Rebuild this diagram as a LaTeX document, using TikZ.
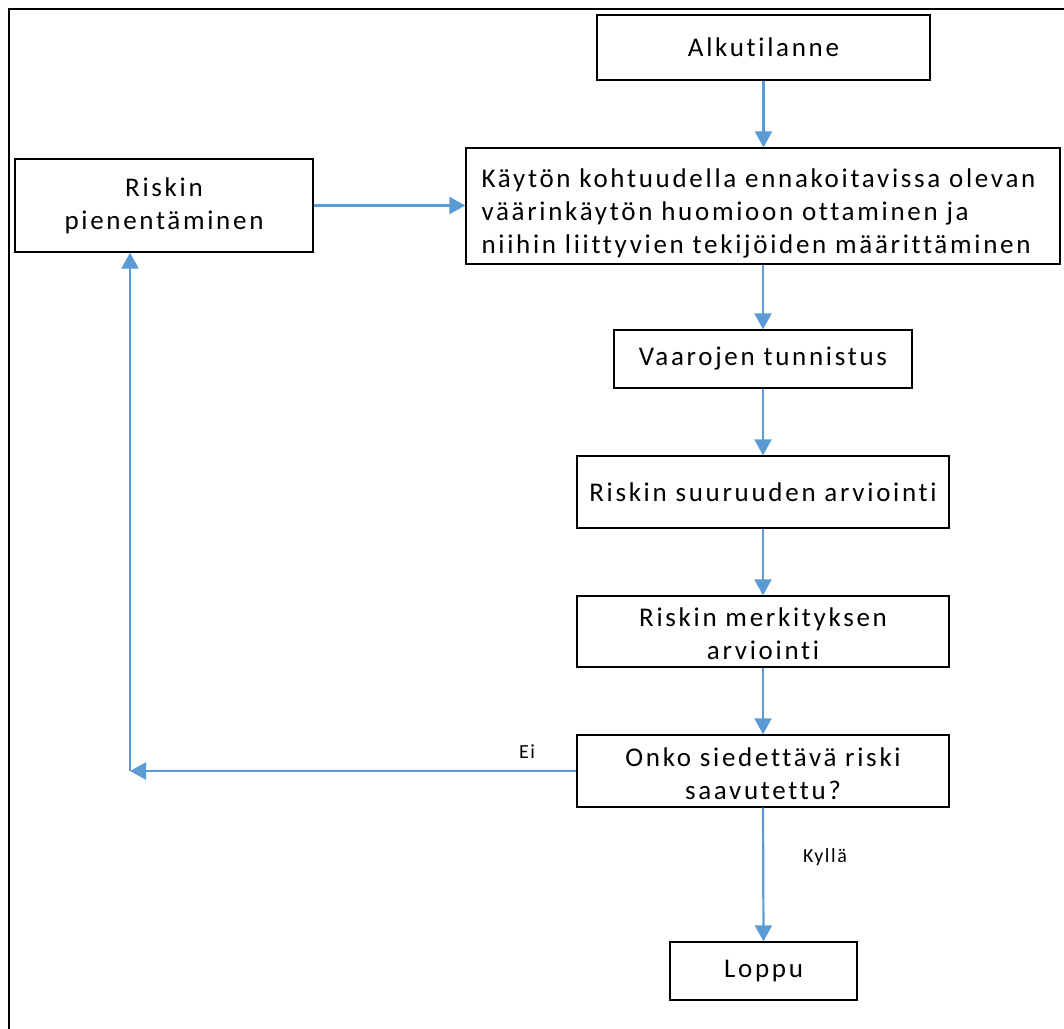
\documentclass[tikz,border=0pt]{standalone}
\usepackage{fontspec}
\setmainfont{Carlito}[LetterSpace=10,Ligatures={NoCommon,NoContextual}]
\newfontfamily\smallfont{Carlito}[LetterSpace=8,Ligatures={NoCommon,NoContextual}]
\usetikzlibrary{arrows.meta}
\definecolor{flowblue}{RGB}{91,155,213}
% set a block of lines lower inside its box without changing the box size
\newcommand\lowertext[3][c]{\raisebox{-#2}[\height][\depth]{\begin{tabular}{@{}#1@{}}#3\end{tabular}}}
\begin{document}
\begin{tikzpicture}[x=1pt,y=-1pt,
  stepbox/.style={draw=black,line width=1.3pt,align=center,inner sep=0pt,
    font=\fontsize{27}{33}\selectfont},
  flow/.style={draw=flowblue,line width=2.2pt,-{Triangle[length=16pt,width=17pt]}},
  lbl/.style={font=\smallfont\fontsize{20}{22}\selectfont,inner sep=0pt}]
\useasboundingbox (0,0) rectangle (1064,1028);
\renewcommand\arraystretch{1}
% outer frame (continues past the page edge)
\draw[line width=2.8pt] (9,1040) -- (9,9) -- (1080,9);

\node[stepbox,minimum width=333pt,minimum height=65pt] (start) at (763.5,47.5) {Alkutilanne};
\node[stepbox,minimum width=594pt,minimum height=116pt] (use) at (763,206)
  {\hspace*{-9pt}\lowertext[l]{8pt}{Käytön kohtuudella ennakoitavissa olevan\\väärinkäytön huomioon ottaminen ja\\niihin liittyvien tekijöiden määrittäminen}};
\node[stepbox,minimum width=298pt,minimum height=93pt] (reduce) at (164,205.5) {Riskin\\pienentäminen};
\node[stepbox,minimum width=298pt,minimum height=58pt] (haz) at (763,359) {Vaarojen tunnistus};
\node[stepbox,minimum width=372pt,minimum height=72pt] (size) at (763,492) {Riskin suuruuden arviointi};
\node[stepbox,minimum width=372pt,minimum height=71pt] (sig) at (763,631.5) {\lowertext{5pt}{Riskin merkityksen\\arviointi}};
\node[stepbox,minimum width=372pt,minimum height=72pt] (ok) at (763,771) {\lowertext{5pt}{Onko siedettävä riski\\saavutettu?}};
\node[stepbox,minimum width=187pt,minimum height=58pt] (end) at (763.5,971) {Loppu};

\coordinate (corner) at (130,771);

\draw[flow] (start.south) -- (use.north -| start.south);
\draw[flow] (use.south) -- (haz.north);
\draw[flow] (haz.south) -- (size.north);
\draw[flow] (size.south) -- (sig.north);
\draw[flow] (sig.south) -- (ok.north);
\draw[flow] (ok.south) -- (end.north);
\draw[flow] (ok.west) -- (corner);
\draw[flow] (corner) -- (reduce.south -| corner);
\draw[flow] (reduce.east) -- (use.west |- reduce.east);

\node[lbl] (no) at (527,752) {Ei};
\node[lbl] (yes) at (825,857) {Kyllä};
\end{tikzpicture}
\end{document}
